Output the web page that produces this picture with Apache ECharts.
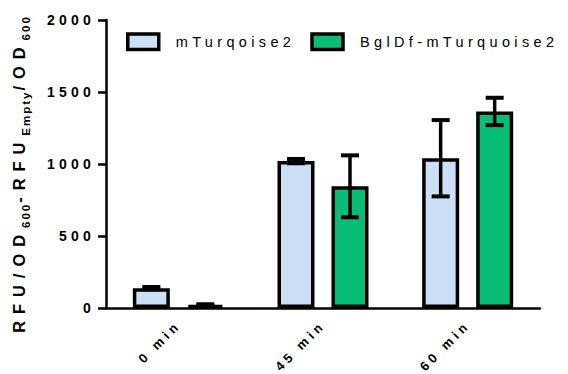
<!DOCTYPE html>
<html>
<head>
<meta charset="utf-8">
<script src="https://cdn.jsdelivr.net/npm/echarts@6/dist/echarts.min.js"></script>
<style>
html,body{margin:0;padding:0;background:#fff;}
#chart{width:568px;height:374px;}
#chart text{letter-spacing:0.3em;}
#chart text[style*="16.4px"]{letter-spacing:7px;}
#chart text[style*="11.5px"]{letter-spacing:2px;}
</style>
</head>
<body>
<div id="chart"></div>
<script>
// ---- data ----
const categories = ['0 min', '45 min', '60 min'];
const seriesNames = ['mTurqoise2', 'BglDf-mTurquoise2'];
const mTurqMean = [138, 1020, 1040];
const mTurqErr = [8, 15, 265];
const bglDMean = [20, 845, 1365];
const bglDErr = [6, 215, 95];
const yTicks = [0, 500, 1000, 1500, 2000];
const yTitle = '{a|RFU/OD}{s|600}{a|-RFU}{s|Empty}{a|/OD}{s|600}';

// ---- letter-spaced text measuring (matches CSS letter-spacing) ----
function spacingFor(size) {
  if (size === 16.4) return 7;
  if (size === 11.5) return 2;
  return 0.3 * size;
}
const mctx = document.createElement('canvas').getContext('2d');
echarts.setPlatformAPI({
  measureText: function (text, font) {
    mctx.font = font || '12px sans-serif';
    const m = mctx.measureText(text);
    const mm = (font || '').match(/([\d.]+)px/);
    const size = mm ? parseFloat(mm[1]) : 12;
    return {
      width: m.width + spacingFor(size) * String(text).length,
      actualBoundingBoxAscent: m.actualBoundingBoxAscent,
      actualBoundingBoxDescent: m.actualBoundingBoxDescent,
      actualBoundingBoxLeft: m.actualBoundingBoxLeft,
      actualBoundingBoxRight: m.actualBoundingBoxRight,
      fontBoundingBoxAscent: m.fontBoundingBoxAscent,
      fontBoundingBoxDescent: m.fontBoundingBoxDescent
    };
  }
});

const FONT = '"Liberation Sans", Arial, sans-serif';
const BAR_W = 37, BAR_GAP_PX = 17;
const OFFSET = (BAR_W + BAR_GAP_PX) / 2;

function errData(mean, err) {
  return mean.map((v, i) => [i, v, err[i]]);
}
function errSeries(name, mean, err, dir) {
  return {
    type: 'custom',
    name: name,
    z: 5,
    data: errData(mean, err),
    renderItem: function (params, api) {
      const c = api.value(0), m = api.value(1), e = api.value(2);
      const hi = api.coord([c, m + e]);
      const lo = api.coord([c, m - e]);
      const x = hi[0] + dir * OFFSET;
      const half = 9;
      return {
        type: 'group',
        children: [
          { type: 'line', shape: { x1: x, y1: hi[1], x2: x, y2: lo[1] }, style: { stroke: '#000', lineWidth: 3.5 } },
          { type: 'line', shape: { x1: x - half, y1: hi[1], x2: x + half, y2: hi[1] }, style: { stroke: '#000', lineWidth: 4 } },
          { type: 'line', shape: { x1: x - half, y1: lo[1], x2: x + half, y2: lo[1] }, style: { stroke: '#000', lineWidth: 4 } }
        ]
      };
    }
  };
}

const chart = echarts.init(document.getElementById('chart'), null, { renderer: 'svg' });
chart.setOption({
  animation: false,
  backgroundColor: '#fff',
  textStyle: { fontFamily: FONT },
  grid: { left: 106, right: 28, top: 20, bottom: 66, containLabel: false, outerBoundsMode: 'none' },
  graphic: [{
    type: 'text',
    x: 19,
    y: 174,
    rotation: Math.PI / 2,
    style: {
      text: yTitle,
      align: 'center',
      verticalAlign: 'middle',
      rich: {
        a: { fontFamily: FONT, fontWeight: 'bold', fontSize: 16.4, fill: '#000', lineHeight: 27, verticalAlign: 'middle' },
        s: { fontFamily: FONT, fontWeight: 'bold', fontSize: 11.5, fill: '#000', lineHeight: 27, verticalAlign: 'bottom' }
      }
    }
  }],
  legend: {
    data: seriesNames,
    orient: 'horizontal',
    left: 121,
    top: 27,
    width: 445,
    itemWidth: 31,
    itemHeight: 15.5,
    itemGap: 15,
    icon: 'rect',
    itemStyle: { borderColor: '#000', borderWidth: 3.5 },
    textStyle: { fontFamily: FONT, fontSize: 14.5, color: '#000', padding: [0, 0, 0, 12] }
  },
  xAxis: {
    type: 'category',
    data: categories,
    axisLine: { lineStyle: { color: '#000', width: 2.5 } },
    axisTick: { alignWithLabel: true, length: 7, lineStyle: { color: '#000', width: 2.5 } },
    axisLabel: { rotate: 45, margin: 15, fontFamily: FONT, fontWeight: 'bold', fontSize: 13, color: '#000' },
    splitLine: { show: false }
  },
  yAxis: {
    type: 'value',
    min: 0,
    max: 2000,
    interval: 500,
    axisLine: { show: true, lineStyle: { color: '#000', width: 2.5 } },
    axisTick: { show: true, length: 8, lineStyle: { color: '#000', width: 2.5 } },
    axisLabel: {
      margin: 11, fontFamily: FONT, fontWeight: 'bold', fontSize: 14, color: '#000',
      formatter: function (v) { return yTicks.indexOf(v) >= 0 ? String(v) : ''; }
    },
    splitLine: { show: false }
  },
  series: [
    {
      type: 'bar', name: seriesNames[0], data: mTurqMean,
      barWidth: BAR_W, barGap: (BAR_GAP_PX / BAR_W * 100) + '%',
      itemStyle: { color: '#cbdff7', borderColor: '#000', borderWidth: 3.5 }
    },
    {
      type: 'bar', name: seriesNames[1], data: bglDMean,
      barWidth: BAR_W, barGap: (BAR_GAP_PX / BAR_W * 100) + '%',
      itemStyle: { color: '#08be77', borderColor: '#000', borderWidth: 3.5 }
    },
    errSeries('err1', mTurqMean, mTurqErr, -1),
    errSeries('err2', bglDMean, bglDErr, 1)
  ]
});
</script>
</body>
</html>
